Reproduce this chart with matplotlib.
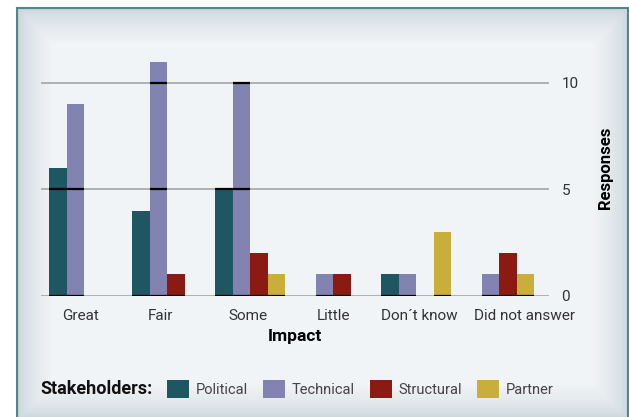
import numpy as np
import matplotlib
matplotlib.use("Agg")
import matplotlib.pyplot as plt
from matplotlib.patches import Patch

plt.rcParams["font.family"] = ["Roboto", "DejaVu Sans"]

categories = ["Great", "Fair", "Some", "Little", "Don\u00b4t know", "Did not answer"]
political = [6, 4, 5, 0, 1, 0]
technical = [9, 11, 10, 1, 1, 1]
structural = [0, 1, 2, 1, 0, 2]
partner = [0, 0, 1, 0, 3, 1]

series_names = ["Political", "Technical", "Structural", "Partner"]
series_colors = ["#1e5661", "#8283b0", "#8a1a12", "#c9ae3c"]
y_ticks = [0, 5, 10]


def main():
    W, H = 629, 417
    fig = plt.figure(figsize=(W / 100, H / 100), dpi=100)
    fig.patch.set_facecolor("white")

    # framed panel with a soft vignette
    x0, y0, x1, y1 = 17, 8, 628, 420
    bg = fig.add_axes([x0 / W, 1 - y1 / H, (x1 - x0) / W, (y1 - y0) / H])
    nx, ny = 300, 200
    u = np.linspace(0, 1, nx)
    v = np.linspace(0, 1, ny)
    U, V = np.meshgrid(u, v)
    d = np.minimum(np.minimum(U, 1 - U) * 6, np.minimum(V, 1 - V) * 4)
    d = np.clip(d / 0.35, 0, 1) ** 0.6
    c_edge = np.array([0.78, 0.83, 0.85])
    c_mid = np.array([0.949, 0.957, 0.965])
    img = c_edge + (c_mid - c_edge) * d[..., None]
    bg.imshow(img, aspect="auto", extent=[0, 1, 0, 1])
    bg.set_xlim(0, 1)
    bg.set_ylim(0, 1)
    bg.set_xticks([])
    bg.set_yticks([])
    for s in bg.spines.values():
        s.set_color("#4f8790")
        s.set_linewidth(1.5)

    ax = fig.add_axes([41 / W, 1 - 295.5 / H, (549 - 41) / W, (295.5 - 40.5) / H])
    ax.patch.set_alpha(0)
    ax.set_xlim(-0.52, 5.6)
    ax.set_ylim(0, 12)

    data = [political, technical, structural, partner]
    w = 0.21
    x = np.arange(len(categories))
    for i, (vals, name, col) in enumerate(zip(data, series_names, series_colors)):
        xs = x + (i - 1.5) * w
        ax.bar(xs, vals, width=w, color=col, edgecolor="none", zorder=2)
        # dark gridline segments across bars
        for xi, val in zip(xs, vals):
            if val <= 0:
                continue
            for lvl in y_ticks:
                if val >= lvl:
                    ax.hlines(lvl, xi - w / 2, xi + w / 2, color="black",
                              linewidth=1.6, zorder=3)

    for lvl in y_ticks:
        ax.axhline(lvl, color="#aaaaaa", linewidth=1.3, zorder=1)

    # labels in the original sit a little off their groups (offsets in group widths)
    label_shift = np.array([-0.04, -0.08, -0.03, 0.0, 0.035, 0.31])
    ax.set_xticks(x + label_shift)
    ax.set_xticklabels(categories, fontsize=11, color="#333333")
    ax.set_yticks(y_ticks)
    ax.yaxis.tick_right()
    ax.yaxis.set_label_position("right")
    ax.tick_params(axis="y", length=0, pad=9, labelsize=11, labelcolor="#333333")
    ax.tick_params(axis="x", length=0, pad=10)
    for s in ax.spines.values():
        s.set_visible(False)
    ax.set_xlabel("Impact", fontsize=12.5, fontweight="bold", labelpad=4)
    ax.set_ylabel("Responses", fontsize=12, fontweight="bold", labelpad=14)

    fig.text(40 / W, 1 - 389 / H, "Stakeholders:", fontsize=13, fontweight="bold",
             va="center", ha="left", color="#111111")
    handles = [Patch(facecolor=c, edgecolor="none", label=n)
               for n, c in zip(series_names, series_colors)]
    fig.legend(handles=handles, ncol=4, loc="center left",
               bbox_to_anchor=(154 / W, 1 - 389 / H), frameon=False,
               fontsize=10.5, handlelength=1.5, handleheight=1.5,
               handletextpad=0.45, columnspacing=1.05, labelcolor="#444444")

    fig.savefig("out.png", dpi=100)


if __name__ == "__main__":
    main()
